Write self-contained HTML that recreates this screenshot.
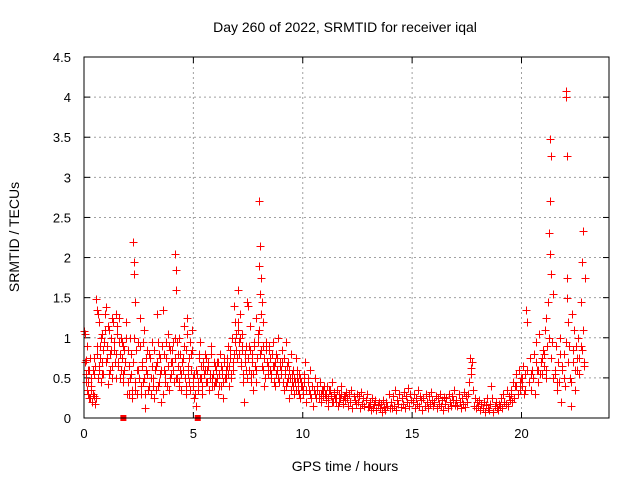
<!DOCTYPE html>
<html><head><meta charset="utf-8"><style>
html,body{margin:0;padding:0;background:#fff;}
svg{display:block;font-family:"Liberation Sans",sans-serif;}
</style></head><body>
<svg id="chart" width="640" height="480">
<rect width="640" height="480" fill="#fff"/>
<text x="345" y="32" text-anchor="middle" font-size="14" fill="#000">Day 260 of 2022, SRMTID for receiver iqal</text>
<text transform="translate(19,237) rotate(-90)" text-anchor="middle" font-size="14" fill="#000">SRMTID / TECUs</text>
<text x="345" y="471" text-anchor="middle" font-size="14" fill="#000">GPS time / hours</text>
<g id="grid"></g>
<g id="ticks"></g>
<g id="points"></g>
<rect x="84" y="57" width="525" height="361" fill="none" stroke="#000" stroke-width="1"/>
</svg>
<script>
const xTicks=[0,5,10,15,20];
const yTicks=[0,0.5,1,1.5,2,2.5,3,3.5,4,4.5];
const yTickLabels=["0","0.5","1","1.5","2","2.5","3","3.5","4","4.5"];
const hours=[
0.02,0.05,0.08,0.1,0.13,0.16,0.2,0.23,0.26,0.3,0.33,0.36,0.4,0.44,0.47,
0.52,0.55,0.58,0.6,0.64,0.67,0.7,0.73,0.77,0.8,0.84,0.88,0.92,0.96,
1.02,1.05,1.1,1.14,1.18,1.22,1.26,1.3,1.35,1.4,1.44,1.48,
1.52,1.56,1.6,1.64,1.68,1.72,1.76,1.8,1.85,1.9,1.95,
2.0,2.05,2.1,2.15,2.2,2.25,2.28,2.3,2.32,2.35,2.4,2.45,
2.52,2.56,2.6,2.65,2.7,2.75,2.8,2.85,2.9,2.95,
3.02,3.07,3.12,3.17,3.22,3.27,3.32,3.37,3.42,3.47,
3.52,3.57,3.62,3.67,3.72,3.77,3.82,3.87,3.92,3.97,
4.02,4.06,4.1,4.14,4.18,4.2,4.22,4.25,4.28,4.32,4.36,4.4,4.45,
4.52,4.56,4.6,4.64,4.68,4.72,4.76,4.8,4.85,4.9,4.95,
5.0,5.05,5.1,5.15,5.2,5.25,5.3,5.35,5.4,5.45,
5.52,5.57,5.62,5.67,5.72,5.77,5.82,5.87,5.92,5.97,
6.02,6.07,6.12,6.17,6.22,6.27,6.32,6.37,6.42,6.47,
6.52,6.57,6.62,6.67,6.72,6.77,6.82,6.87,6.92,6.97,
7.02,7.05,7.08,7.12,7.16,7.2,7.24,7.28,7.32,7.36,7.4,7.45,
7.52,7.56,7.6,7.64,7.68,7.72,7.76,7.8,7.84,7.88,7.92,7.96,
8.0,8.02,8.04,8.06,8.08,8.1,8.13,8.16,8.2,8.25,8.3,8.35,8.4,8.45,
8.52,8.57,8.62,8.67,8.72,8.77,8.82,8.87,8.92,8.97,
9.02,9.07,9.12,9.17,9.22,9.27,9.32,9.37,9.42,9.47,
9.52,9.57,9.62,9.67,9.72,9.77,9.82,9.87,9.92,9.97,
10.02,10.07,10.12,10.17,10.22,10.27,10.32,10.37,10.42,10.47,
10.52,10.57,10.62,10.67,10.72,10.77,10.82,10.87,10.92,10.97,
11.02,11.07,11.12,11.17,11.22,11.27,11.32,11.37,11.42,11.47,
11.52,11.57,11.62,11.67,11.72,11.77,11.82,11.87,11.92,11.97,
12.02,12.07,12.12,12.17,12.22,12.27,12.32,12.37,12.42,12.47,
12.52,12.57,12.62,12.67,12.72,12.77,12.82,12.87,12.92,12.97,
13.02,13.07,13.12,13.17,13.22,13.27,13.32,13.37,13.42,13.47,
13.52,13.57,13.62,13.67,13.72,13.77,13.82,13.87,13.92,13.97,
14.02,14.07,14.12,14.17,14.22,14.27,14.32,14.37,14.42,14.47,
14.52,14.57,14.62,14.67,14.72,14.77,14.82,14.87,14.92,14.97,
15.02,15.07,15.12,15.17,15.22,15.27,15.32,15.37,15.42,15.47,
15.52,15.57,15.62,15.67,15.72,15.77,15.82,15.87,15.92,15.97,
16.02,16.07,16.12,16.17,16.22,16.27,16.32,16.37,16.42,16.47,
16.52,16.57,16.62,16.67,16.72,16.77,16.82,16.87,16.92,16.97,
17.02,17.07,17.12,17.17,17.22,17.27,17.32,17.37,17.42,17.47,
17.52,17.57,17.62,17.66,17.68,17.7,17.72,17.76,17.82,17.87,17.92,17.97,
18.02,18.07,18.12,18.17,18.22,18.27,18.32,18.37,18.42,18.47,
18.52,18.57,18.62,18.67,18.72,18.77,18.82,18.87,18.92,18.97,
19.02,19.07,19.12,19.17,19.22,19.27,19.32,19.37,19.42,19.47,
19.52,19.57,19.62,19.67,19.72,19.77,19.82,19.87,19.92,19.97,
20.02,20.07,20.12,20.17,20.22,20.27,20.32,20.37,20.42,20.47,
20.52,20.57,20.62,20.67,20.72,20.77,20.82,20.87,20.92,20.97,
21.02,21.06,21.1,21.14,21.18,21.22,21.25,21.28,21.3,21.32,21.34,21.36,21.4,21.45,
21.52,21.57,21.62,21.67,21.72,21.77,21.82,21.87,21.92,21.97,
22.02,22.05,22.06,22.08,22.1,22.14,22.18,22.22,22.26,22.3,22.35,22.4,22.45,
22.5,22.55,22.6,22.65,22.7,22.75,22.78,22.8,22.82,22.85,22.88
];
const srmtid=[
1.08,1.05,0.72,0.55,0.9,0.3,0.45,0.6,0.25,0.5,0.35,0.2,0.6,0.28,0.75,
0.18,1.48,1.35,0.8,0.5,1.2,0.65,0.9,0.45,1.05,0.7,0.55,0.95,1.3,
1.38,0.75,0.42,1.1,0.6,0.85,1.25,0.5,0.95,0.7,1.3,0.8,
1.15,0.65,0.95,0.5,1.0,0.75,0.45,0.9,0.6,1.2,0.3,
0.85,0.3,1.0,0.55,0.25,2.2,1.95,1.8,1.45,0.35,0.6,0.95,
0.5,1.25,0.3,0.7,0.45,1.1,0.12,0.6,0.85,0.4,
0.75,0.3,0.95,0.5,0.25,0.65,1.3,0.4,0.8,0.55,
0.2,0.9,1.35,0.6,0.45,0.75,1.05,0.35,0.85,0.55,
0.7,0.95,0.45,1.0,2.05,1.85,1.6,0.5,0.8,0.4,1.0,0.6,0.35,
0.75,1.15,0.5,0.85,0.3,1.25,0.65,0.45,0.95,0.8,1.1,
0.4,0.25,0.15,0.55,0.35,0.75,0.95,0.5,0.3,0.65,
0.8,0.45,0.6,0.7,0.35,0.55,0.9,0.5,0.4,0.65,
0.45,0.7,0.3,0.55,0.8,0.4,0.6,0.25,0.75,0.5,
0.65,0.9,0.4,0.75,0.55,1.0,0.6,1.4,1.2,0.85,
1.6,1.1,0.95,1.3,0.7,0.9,1.05,0.45,0.2,0.8,0.6,1.45,
1.4,0.9,1.15,0.55,0.8,0.35,0.95,0.65,0.45,1.25,0.75,1.05,
2.7,1.9,2.15,1.55,1.75,0.85,1.45,0.6,1.2,0.4,0.95,0.7,0.55,0.85,
0.75,0.5,0.95,0.65,0.4,0.8,0.6,1.0,0.45,0.7,
0.55,0.85,0.35,0.6,0.95,0.45,0.7,0.25,0.5,0.8,
0.45,0.6,0.3,0.75,0.5,0.35,0.55,0.25,0.45,0.4,
0.3,0.55,0.7,0.2,0.45,0.35,0.6,0.25,0.4,0.15,
0.35,0.5,0.25,0.4,0.3,0.45,0.2,0.35,0.28,0.4,
0.3,0.22,0.4,0.15,0.35,0.28,0.45,0.2,0.32,0.25,
0.2,0.35,0.15,0.3,0.25,0.4,0.18,0.28,0.22,0.33,
0.25,0.15,0.3,0.2,0.35,0.12,0.28,0.22,0.18,0.3,
0.2,0.28,0.12,0.32,0.18,0.25,0.15,0.22,0.3,0.14,
0.15,0.2,0.1,0.25,0.12,0.18,0.22,0.1,0.16,0.2,
0.12,0.18,0.08,0.22,0.14,0.1,0.2,0.15,0.3,0.12,
0.2,0.12,0.28,0.15,0.35,0.1,0.22,0.18,0.3,0.14,
0.25,0.18,0.32,0.12,0.28,0.2,0.38,0.15,0.3,0.22,
0.2,0.3,0.12,0.25,0.18,0.35,0.15,0.28,0.22,0.1,
0.25,0.15,0.3,0.2,0.12,0.28,0.18,0.33,0.22,0.15,
0.2,0.28,0.12,0.25,0.18,0.3,0.15,0.22,0.1,0.26,
0.18,0.25,0.12,0.3,0.2,0.15,0.28,0.22,0.35,0.16,
0.22,0.15,0.3,0.2,0.12,0.25,0.18,0.32,0.14,0.28,
0.2,0.3,0.45,0.75,0.62,0.55,0.7,0.35,0.15,0.25,0.12,0.2,
0.15,0.22,0.1,0.18,0.12,0.2,0.08,0.16,0.25,0.12,
0.1,0.18,0.4,0.25,0.08,0.15,0.2,0.12,0.1,0.18,
0.15,0.25,0.12,0.3,0.2,0.18,0.35,0.15,0.28,0.22,
0.3,0.2,0.45,0.25,0.4,0.55,0.3,0.6,0.35,0.5,
0.4,0.65,0.3,0.55,1.35,1.2,0.45,0.75,0.35,0.6,
0.5,0.8,0.3,0.95,0.6,0.45,1.05,0.7,0.55,0.85,
0.65,1.1,0.5,1.25,0.9,1.45,2.3,2.05,2.7,3.48,3.27,1.8,0.95,1.55,
0.55,0.9,0.35,0.7,0.45,1.0,0.2,0.6,0.8,0.4,
4.08,4.0,3.27,1.75,1.5,1.2,0.9,0.5,0.15,1.3,0.7,1.1,0.35,
0.9,0.6,1.0,0.75,1.45,0.85,1.95,2.33,1.1,0.7,1.75
];
/* second pass of samples (interleaved epochs) */
const hours2=[
0.04,0.09,0.14,0.19,0.24,0.29,0.34,0.39,0.44,0.49,0.54,0.59,0.64,0.69,0.74,0.79,0.84,0.89,0.94,0.99,
1.04,1.09,1.14,1.19,1.24,1.29,1.34,1.39,1.44,1.49,1.54,1.59,1.64,1.69,1.74,1.79,1.84,1.89,1.94,1.99,
2.04,2.09,2.14,2.19,2.24,2.29,2.34,2.39,2.44,2.49,2.54,2.59,2.64,2.69,2.74,2.79,2.84,2.89,2.94,2.99,
3.04,3.09,3.14,3.19,3.24,3.29,3.34,3.39,3.44,3.49,3.54,3.59,3.64,3.69,3.74,3.79,3.84,3.89,3.94,3.99,
4.04,4.09,4.14,4.19,4.24,4.29,4.34,4.39,4.44,4.49,4.54,4.59,4.64,4.69,4.74,4.79,4.84,4.89,4.94,4.99,
5.04,5.09,5.14,5.19,5.24,5.29,5.34,5.39,5.44,5.49,5.54,5.59,5.64,5.69,5.74,5.79,5.84,5.89,5.94,5.99,
6.04,6.09,6.14,6.19,6.24,6.29,6.34,6.39,6.44,6.49,6.54,6.59,6.64,6.69,6.74,6.79,6.84,6.89,6.94,6.99,
7.04,7.09,7.14,7.19,7.24,7.29,7.34,7.39,7.44,7.49,7.54,7.59,7.64,7.69,7.74,7.79,7.84,7.89,7.94,7.99,
8.04,8.09,8.14,8.19,8.24,8.29,8.34,8.39,8.44,8.49,8.54,8.59,8.64,8.69,8.74,8.79,8.84,8.89,8.94,8.99,
9.04,9.09,9.14,9.19,9.24,9.29,9.34,9.39,9.44,9.49,9.54,9.59,9.64,9.69,9.74,9.79,9.84,9.89,9.94,9.99,
10.04,10.14,10.24,10.34,10.44,10.54,10.64,10.74,10.84,10.94,
11.04,11.14,11.24,11.34,11.44,11.54,11.64,11.74,11.84,11.94,
19.54,19.64,19.74,19.84,19.94,20.04,20.14,20.24,20.34,20.44,20.54,20.64,20.74,20.84,20.94,
21.04,21.14,21.24,21.34,21.44,21.54,21.64,21.74,21.84,21.94,
22.04,22.14,22.24,22.34,22.44,22.54,22.64,22.74,22.84
];
const srmtid2=[
0.7,0.45,0.35,0.6,0.25,0.75,0.4,0.3,0.55,0.65,0.25,0.9,1.3,0.6,0.75,1.0,0.55,0.85,1.1,0.7,
0.9,1.15,0.55,0.8,1.0,0.65,1.2,0.85,0.5,1.05,0.7,1.25,0.8,0.6,0.95,0.55,0.85,0.7,1.0,0.45,
0.65,0.5,0.8,0.35,0.7,1.0,0.45,0.85,0.3,0.6,0.9,0.4,0.65,0.95,0.5,0.3,0.75,0.55,0.35,0.8,
0.5,0.65,0.4,0.85,0.6,0.35,0.7,0.95,0.45,0.75,0.6,0.3,0.8,0.55,0.95,0.4,0.65,0.9,0.5,0.7,
0.85,0.6,0.75,0.5,0.95,0.65,0.45,0.8,0.55,0.7,0.6,0.9,0.4,1.05,0.55,0.75,0.35,0.6,0.85,0.5,
0.55,0.3,0.6,0.45,0.8,0.5,0.65,0.4,0.7,0.55,0.6,0.75,0.45,0.65,0.5,0.8,0.4,0.55,0.7,0.45,
0.6,0.5,0.7,0.4,0.65,0.55,0.45,0.7,0.5,0.6,0.75,0.55,0.65,0.85,0.5,0.7,0.8,0.95,1.05,0.75,
1.2,0.8,1.0,0.65,0.85,0.55,0.7,0.9,0.5,0.75,0.6,0.85,0.45,0.7,0.55,0.9,0.6,0.75,0.95,1.1,
0.8,1.3,0.65,0.9,0.75,0.5,0.85,0.65,0.9,0.6,0.55,0.8,0.65,0.45,0.7,0.55,0.75,0.5,0.65,0.6,
0.7,0.45,0.75,0.55,0.4,0.65,0.5,0.6,0.35,0.55,0.4,0.5,0.45,0.35,0.6,0.45,0.3,0.5,0.4,0.35,
0.45,0.35,0.5,0.3,0.4,0.3,0.35,0.25,0.3,0.35,
0.3,0.25,0.35,0.2,0.3,0.25,0.2,0.3,0.22,0.28,
0.35,0.25,0.4,0.3,0.45,0.5,0.35,0.6,0.45,0.55,0.5,0.7,0.6,0.55,0.75,
0.8,0.6,1.0,0.75,0.5,0.6,0.45,0.8,0.65,0.5,
0.95,0.7,0.45,0.85,0.6,0.75,0.55,0.9,0.65
];
const gapHours=[1.8,5.2];

const NS="http://www.w3.org/2000/svg";
const L=84,R=609,T=57,B=418,XMAX=24,YMAX=4.5;
function sx(h){return L+h/XMAX*(R-L);}
function sy(v){return B-v/YMAX*(B-T);}
function mk(tag,attrs,parent){const e=document.createElementNS(NS,tag);for(const k in attrs)e.setAttribute(k,attrs[k]);parent.appendChild(e);return e;}
const grid=document.getElementById('grid'),ticks=document.getElementById('ticks'),pts=document.getElementById('points');

xTicks.forEach((t,i)=>{
  const x=sx(t);
  if(t>0){const g=mk('line',{x1:x,y1:T,x2:x,y2:B,stroke:'#a0a0a0','stroke-dasharray':'2,3','stroke-width':1},grid);
  
  }
  mk('line',{x1:x,y1:B,x2:x,y2:B-6,stroke:'#000'},ticks);
  mk('line',{x1:x,y1:T,x2:x,y2:T+6,stroke:'#000'},ticks);
  const lb=mk('text',{x:x,y:B+20,'text-anchor':'middle','font-size':13,fill:'#000'},ticks);
  lb.textContent=String(t);
  
  
});
yTicks.forEach((t,i)=>{
  const y=sy(t);
  if(t>0&&t<YMAX){const g=mk('line',{x1:L,y1:y,x2:R,y2:y,stroke:'#a0a0a0','stroke-dasharray':'2,3','stroke-width':1},grid);
  
  }
  mk('line',{x1:L,y1:y,x2:L+6,y2:y,stroke:'#000'},ticks);
  mk('line',{x1:R,y1:y,x2:R-6,y2:y,stroke:'#000'},ticks);
  const lb=mk('text',{x:L-13,y:y+5,'text-anchor':'end','font-size':13,fill:'#000'},ticks);
  lb.textContent=yTickLabels[i];
  
  
});
function crosses(hs,vs){
  let d='';
  for(let i=0;i<hs.length;i++){
    const x=Math.round(sx(hs[i]))+0.5,y=Math.round(sy(vs[i]))+0.5;
    d+=`M${x-4},${y}h8M${x},${y-4}v8`;
  }
  return d;
}
const p=mk('path',{d:crosses(hours,srmtid)+crosses(hours2,srmtid2),stroke:'#ff0000','stroke-width':1,fill:'none'},pts);


gapHours.forEach(h=>{
  const r=mk('rect',{x:sx(h)-3,y:B-3,width:6,height:6,fill:'#ff0000'},pts);
  
  
});
</script>
</body></html>
